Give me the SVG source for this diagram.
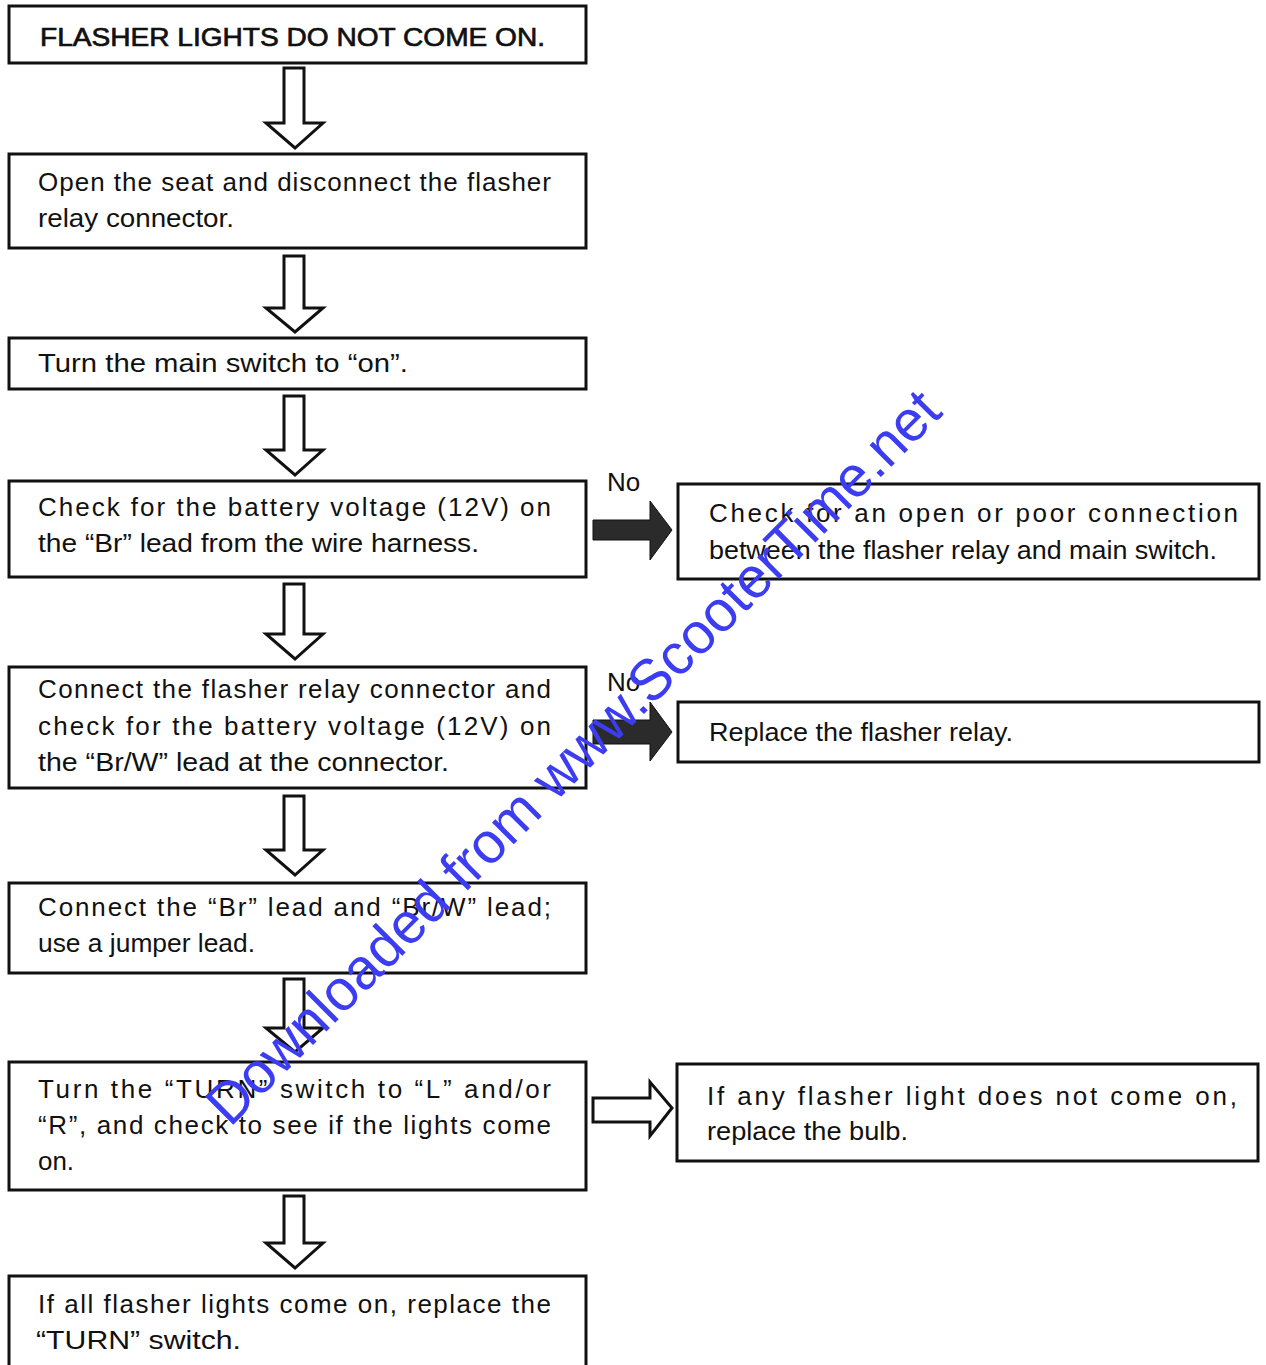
<svg xmlns="http://www.w3.org/2000/svg" width="1266" height="1365" viewBox="0 0 1266 1365">
<style>
.box{fill:#fff;stroke:#111;stroke-width:3}
.t{font-family:"Liberation Sans",Arial,sans-serif;font-size:26px;fill:#111}
.title{font-family:"Liberation Sans",Arial,sans-serif;font-size:26px;fill:#111;stroke:#111;stroke-width:0.7}
.dn{fill:#fff;stroke:#111;stroke-width:3;stroke-linejoin:miter}
.no{fill:#2b2b2b;stroke:#111;stroke-width:1}
.wm{font-family:"Liberation Sans",Arial,sans-serif;font-size:58px;fill:#3c3cf0}
</style>
<rect width="1266" height="1365" fill="#fff"/>
<g id="connectors">
<path class="dn" d="M284,68 H304 V123 H323 L295,148 L266,123 H284 Z"/>
<path class="dn" d="M284,256 H304 V308 H323 L295,332 L266,308 H284 Z"/>
<path class="dn" d="M284,396 H304 V450 H323 L295,475 L266,450 H284 Z"/>
<path class="dn" d="M284,584 H304 V634 H323 L295,659 L266,634 H284 Z"/>
<path class="dn" d="M284,796 H304 V850 H323 L295,875 L266,850 H284 Z"/>
<path class="dn" d="M284,979 H304 V1028 H323 L295,1052 L266,1028 H284 Z"/>
<path class="dn" d="M284,1196 H304 V1243 H323 L295,1268 L266,1243 H284 Z"/>
<path class="no" d="M593,520 H650 V501 L672,530 L650,560 V540 H593 Z"/>
<path class="no" d="M593,720 H650 V702 L672,732 L650,761 V744 H593 Z"/>
<path class="dn" d="M593,1098 H650 V1082 L672,1108 L650,1136 V1122 H593 Z"/>
<text class="t" x="607" y="491">No</text>
<text class="t" x="607" y="691">No</text>
</g>
<g id="n1"><rect class="box" x="9" y="6" width="577" height="57"/>
<text class="title" x="40" y="46" textLength="505" lengthAdjust="spacingAndGlyphs">FLASHER LIGHTS DO NOT COME ON.</text></g>
<g id="n2"><rect class="box" x="9" y="154" width="577" height="94"/>
<text class="t" x="38" y="191" textLength="513" lengthAdjust="spacing">Open the seat and disconnect the flasher</text>
<text class="t" x="38" y="227" textLength="196" lengthAdjust="spacingAndGlyphs">relay connector.</text></g>
<g id="n3"><rect class="box" x="9" y="338" width="577" height="51"/>
<text class="t" x="38" y="372" textLength="370" lengthAdjust="spacingAndGlyphs">Turn the main switch to “on”.</text></g>
<g id="n4"><rect class="box" x="9" y="481" width="577" height="96"/>
<text class="t" x="38" y="516" textLength="513" lengthAdjust="spacing">Check for the battery voltage (12V) on</text>
<text class="t" x="38" y="552" textLength="441" lengthAdjust="spacingAndGlyphs">the “Br” lead from the wire harness.</text></g>
<g id="n5"><rect class="box" x="9" y="667" width="577" height="121"/>
<text class="t" x="38" y="698" textLength="513" lengthAdjust="spacing">Connect the flasher relay connector and</text>
<text class="t" x="38" y="735" textLength="513" lengthAdjust="spacing">check for the battery voltage (12V) on</text>
<text class="t" x="38" y="771" textLength="411" lengthAdjust="spacingAndGlyphs">the “Br/W” lead at the connector.</text></g>
<g id="n6"><rect class="box" x="9" y="883" width="577" height="90"/>
<text class="t" x="38" y="916" textLength="513" lengthAdjust="spacing">Connect the “Br” lead and “Br/W” lead;</text>
<text class="t" x="38" y="952" textLength="217" lengthAdjust="spacingAndGlyphs">use a jumper lead.</text></g>
<g id="n7"><rect class="box" x="9" y="1062" width="577" height="128"/>
<text class="t" x="38" y="1098" textLength="513" lengthAdjust="spacing">Turn the “TURN” switch to “L” and/or</text>
<text class="t" x="38" y="1134" textLength="513" lengthAdjust="spacing">“R”, and check to see if the lights come</text>
<text class="t" x="38" y="1170" textLength="36" lengthAdjust="spacingAndGlyphs">on.</text></g>
<g id="n8"><rect class="box" x="9" y="1276" width="577" height="100"/>
<text class="t" x="38" y="1313" textLength="513" lengthAdjust="spacing">If all flasher lights come on, replace the</text>
<text class="t" x="36" y="1349" textLength="205" lengthAdjust="spacingAndGlyphs">“TURN” switch.</text></g>
<g id="r1"><rect class="box" x="678" y="484" width="581" height="95"/>
<text class="t" x="709" y="522" textLength="529" lengthAdjust="spacing">Check for an open or poor connection</text>
<text class="t" x="709" y="559" textLength="508" lengthAdjust="spacingAndGlyphs">between the flasher relay and main switch.</text></g>
<g id="r2"><rect class="box" x="678" y="702" width="581" height="60"/>
<text class="t" x="709" y="741" textLength="304" lengthAdjust="spacingAndGlyphs">Replace the flasher relay.</text></g>
<g id="r3"><rect class="box" x="677" y="1064" width="581" height="97"/>
<text class="t" x="707" y="1105" textLength="530" lengthAdjust="spacing">If any flasher light does not come on,</text>
<text class="t" x="707" y="1140" textLength="201" lengthAdjust="spacingAndGlyphs">replace the bulb.</text></g>
<text class="wm" x="230" y="1128" transform="rotate(-45 230 1128)" textLength="1010" lengthAdjust="spacingAndGlyphs">Downloaded from www.ScooterTime.net</text>
</svg>
